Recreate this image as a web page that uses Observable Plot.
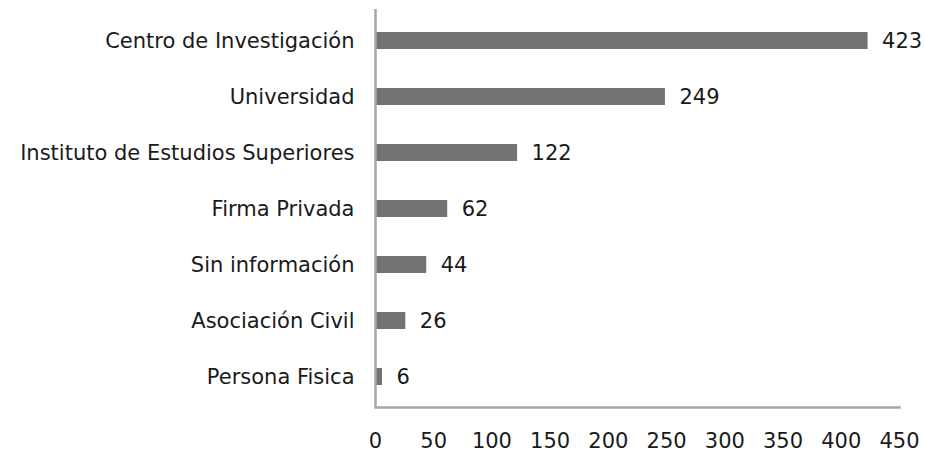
<!DOCTYPE html>
<html>
<head>
<meta charset="utf-8">
<script src="https://cdn.jsdelivr.net/npm/d3@7"></script>
<script src="https://cdn.jsdelivr.net/npm/@observablehq/plot@0.6"></script>
<style>
  body { margin: 0; background: #fff; }
  #chart svg { display: block; }
</style>
</head>
<body>
<div id="chart"></div>
<script>
const categories = [
  "Centro de Investigación",
  "Universidad",
  "Instituto de Estudios Superiores",
  "Firma Privada",
  "Sin información",
  "Asociación Civil",
  "Persona Fisica"
];
const values = [423, 249, 122, 62, 44, 26, 6];
const xTicks = [0, 50, 100, 150, 200, 250, 300, 350, 400, 450];

const data = categories.map((c, i) => ({category: c, value: values[i]}));

const chart = Plot.plot({
  width: 925,
  height: 452,
  marginLeft: 375,
  marginRight: 26,
  marginTop: 9,
  marginBottom: 45,
  style: {fontFamily: "'DejaVu Sans', sans-serif", fontSize: "21px", color: "#1a1a1a", background: "#fff"},
  x: {domain: [0, 450], ticks: xTicks, label: null},
  y: {domain: categories, paddingInner: 0.7, paddingOuter: 0.35, label: null},
  marks: [
    Plot.barX(data, {x: "value", y: "category", fill: "#737373"}),
    Plot.text(data, {x: "value", y: "category", text: d => String(d.value), dx: 14, textAnchor: "start", fill: "#1a1a1a", fontSize: 21}),
    Plot.ruleX([0], {stroke: "#a6a6a6", strokeWidth: 2.5}),
    Plot.frame({anchor: "bottom", stroke: "#a6a6a6", strokeWidth: 2.5}),
    Plot.axisX({ticks: xTicks, tickSize: 0, tickPadding: 26, fontSize: 21, label: null, tickFormat: d => String(d)}),
    Plot.axisY({tickSize: 0, tickPadding: 21, fontSize: 21, label: null})
  ]
});
document.getElementById("chart").appendChild(chart);
</script>
</body>
</html>
